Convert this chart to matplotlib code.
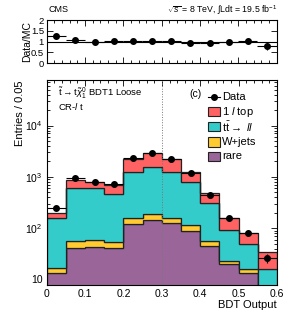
import numpy as np
import matplotlib
matplotlib.use("Agg")
import matplotlib.pyplot as plt
from matplotlib.patches import Rectangle
from matplotlib.lines import Line2D
from matplotlib.ticker import MultipleLocator, LogLocator, FuncFormatter, NullFormatter, FixedLocator

plt.rcParams['font.family'] = ['Liberation Sans', 'DejaVu Sans']
plt.rcParams['mathtext.fontset'] = 'custom'
plt.rcParams['mathtext.rm'] = 'Liberation Sans'
plt.rcParams['mathtext.it'] = 'Liberation Sans:italic'
plt.rcParams['mathtext.bf'] = 'Liberation Sans:bold'
plt.rcParams['mathtext.sf'] = 'Liberation Sans'

# ---------------- data ----------------
bin_edges = [0.0, 0.05, 0.10, 0.15, 0.20, 0.25, 0.30, 0.35, 0.40, 0.45, 0.50, 0.55, 0.60]
rare      = [12.2, 40.5, 42.5, 40.5, 119, 143, 125, 85.5, 43.5, 18.9, 12.2, 5.0]
wjets     = [3.6, 14.1, 15.5, 12.5, 37, 44, 35, 26.5, 11.1, 3.3, 2.9, 1.5]
ttll      = [140, 560, 542, 405, 1106, 1393, 1102, 694, 251, 70, 33.4, 8.8]
onel_top  = [44, 256, 185, 242, 972, 1300, 938, 456, 173, 68, 31, 18.6]
data      = [248, 941, 785, 735, 2279, 2966, 2244, 1199, 450, 157, 82, 26.4]
data_err  = [16, 31, 28, 27, 48, 54, 47, 35, 21, 12.5, 9, 5.2]

components = [rare, wjets, ttll, onel_top]
comp_colors = ['#9a6699', '#ffcb30', '#34cbcb', '#fe6262']
comp_labels = ['rare', 'W+jets', r'$\mathrm{t\bar{t}}\rightarrow$ $ll$', r'1 $l$ top']

edges = np.array(bin_edges)
centers = 0.5 * (edges[1:] + edges[:-1])
halfw = 0.5 * (edges[1:] - edges[:-1])

fig = plt.figure(figsize=(2.91, 3.28), dpi=100)
ax_r = fig.add_axes([0.1605, 0.807, 0.790, 0.132])
ax = fig.add_axes([0.1605, 0.131, 0.7915, 0.625])

# ---------------- main panel ----------------
bottom = np.full(len(centers), 1.0)
for vals, col in zip(components, comp_colors):
    top = bottom + np.array(vals)
    ax.stairs(top, edges, baseline=bottom, fill=True, facecolor=col,
              edgecolor='#222222', linewidth=0.9, zorder=2)
    bottom = top
mc_total = bottom - 1.0

ax.axvline(0.3, color='#777777', linestyle=':', linewidth=0.7, zorder=3)

ax.errorbar(centers, data, xerr=halfw, yerr=data_err, fmt='o', color='black',
            ms=4.0, elinewidth=0.8, capsize=0, zorder=5)

ax.set_yscale('log')
ax.set_xlim(0, 0.6)
ax.set_ylim(7.8, 7.7e4)
ax.xaxis.set_major_locator(MultipleLocator(0.1))
ax.xaxis.set_minor_locator(MultipleLocator(0.02))
ax.yaxis.set_major_locator(LogLocator(base=10))
ax.yaxis.set_minor_locator(LogLocator(base=10, subs=range(2, 10)))
ax.yaxis.set_minor_formatter(NullFormatter())
ax.yaxis.set_major_formatter(FuncFormatter(
    lambda v, p: '10' if abs(v - 10) < 1e-6 else r'$10^{%d}$' % int(round(np.log10(v)))))
ax.xaxis.set_major_formatter(FuncFormatter(lambda v, p: '%g' % round(v, 2)))
ax.tick_params(which='both', direction='in', top=True, right=True, width=0.6, labelsize=7.5)
ax.tick_params(which='major', length=4.5, pad=3)
ax.tick_params(which='minor', length=2.3)
for s in ax.spines.values():
    s.set_linewidth(0.8)

ax.set_xlabel('BDT Output', fontsize=8, loc='right')
ax.xaxis.set_label_coords(1.0, -0.075)
ax.set_ylabel('Entries / 0.05', fontsize=8, loc='top')
ax.yaxis.set_label_coords(-0.094, 1.0)

ax.text(0.05, 0.935, r'$\tilde{\mathrm{t}}\rightarrow \mathrm{t}\tilde{\chi}^{0}_{1}$ BDT1 Loose',
        transform=ax.transAxes, fontsize=6.8, va='center', ha='left')
ax.text(0.05, 0.873, r'CR-$l$ t', transform=ax.transAxes, fontsize=6.8, va='center', ha='left')
ax.text(0.644, 0.932, '(c)', transform=ax.transAxes, fontsize=7.5, va='center', ha='center')

# legend (manual)
leg_y = [0.9156, 0.8454, 0.772, 0.6976, 0.6278]
bx0, bw, bh, tx = 0.701, 0.051, 0.045, 0.762
ax.add_line(Line2D([bx0, bx0 + bw], [leg_y[0]] * 2, color='black', lw=0.8,
                   transform=ax.transAxes, zorder=6))
ax.add_line(Line2D([bx0 + bw / 2], [leg_y[0]], marker='o', ms=4.0, color='black',
                   transform=ax.transAxes, zorder=6))
ax.text(tx, leg_y[0], 'Data', transform=ax.transAxes, fontsize=8, va='center', ha='left')
for yy, col, lab in zip(leg_y[1:], comp_colors[::-1], comp_labels[::-1]):
    ax.add_patch(Rectangle((bx0, yy - bh / 2), bw, bh, transform=ax.transAxes,
                           facecolor=col, edgecolor='#222222', lw=0.8, zorder=6))
    ax.text(tx, yy, lab, transform=ax.transAxes, fontsize=8, va='center', ha='left')

# ---------------- ratio panel ----------------
ratio = np.array(data) / mc_total
ratio_err = np.array(data_err) / mc_total
ax_r.axhline(1.0, color='black', lw=0.8, zorder=2)
ax_r.errorbar(centers, ratio, xerr=halfw, yerr=ratio_err, fmt='o', color='black',
              ms=4.0, elinewidth=0.8, capsize=0, zorder=4)
ax_r.set_xlim(0, 0.6)
ax_r.set_ylim(0, 2)
ax_r.yaxis.set_major_locator(FixedLocator([0, 0.5, 1, 1.5, 2]))
ax_r.yaxis.set_major_formatter(FuncFormatter(lambda v, p: '%g' % v))
ax_r.xaxis.set_major_locator(MultipleLocator(0.1))
ax_r.xaxis.set_minor_locator(MultipleLocator(0.02))
ax_r.tick_params(which='both', direction='in', top=True, right=True, width=0.6,
                 labelsize=6.8, labelbottom=False)
ax_r.tick_params(which='major', length=4.5, pad=2)
ax_r.tick_params(which='minor', length=2.3)
for s in ax_r.spines.values():
    s.set_linewidth(0.8)
ax_r.set_ylabel('Data/MC', fontsize=7.5)
ax_r.yaxis.set_label_coords(-0.064, 0.5)

fig.text(0.168, 0.970, 'CMS', fontsize=6.5, ha='left', va='center')
fig.text(0.952, 0.970, r'$\sqrt{s}$ = 8 TeV, ∫Ldt = 19.5 fb$^{-1}$', fontsize=6.3,
         ha='right', va='center')

fig.savefig('out.png', dpi=100)
